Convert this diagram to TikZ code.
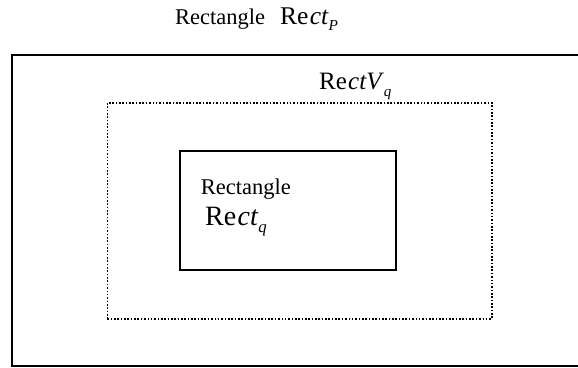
\documentclass[tikz,border=0pt]{standalone}
\usepackage{fontspec}
\setmainfont{Liberation Serif}

% rectangle symbol: upright "Re", italic "ct", then the rest and a subscript
\newcommand\rectname[3]{%
  {\fontsize{#1}{#1}\selectfont Re\hspace{0.05em}\textit{ct#2}%
   \raisebox{-0.26em}{\fontsize{0.6\dimexpr#1pt\relax}{1em}\selectfont\textit{#3}}}}

\tikzset{
  solidframe/.style={draw, line width=2pt, outer sep=0pt, inner sep=0pt, anchor=north west},
  dottedframe/.style={draw, line width=1.6pt, dash pattern=on 1.6pt off 1.75pt,
    outer sep=0pt, inner sep=0pt, anchor=north west},
  caption/.style={inner sep=0pt, anchor=base west,
    font=\fontsize{22.5}{25}\selectfont},
  symbol/.style={inner sep=0pt, anchor=base west},
}

\begin{document}
\begin{tikzpicture}[x=1pt, y=-1pt]
  \useasboundingbox (0,0) rectangle (578,367);

  % nested regions
  \node[solidframe, minimum width=600pt, minimum height=311pt]
    (rectP) at (12,55) {};
  \node[dottedframe, minimum width=384.4pt, minimum height=216pt]
    (rectVq) at (107.3,102.8) {};
  \node[solidframe, minimum width=215.7pt, minimum height=119pt]
    (rectq) at (180,151.4) {};

  % labels
  \node[caption] (capP) at (175,24.3) {Rectangle};
  \node[symbol] (symP) at (280,24.3) {\rectname{25.5}{}{P}};
  \node[symbol] (symVq) at (319,89.5) {\rectname{25}{V}{q}};
  \node[caption] (capq) at (200.7,194) {Rectangle};
  \node[symbol] (symq) at (205,225) {\rectname{28}{}{q}};
\end{tikzpicture}
\end{document}
